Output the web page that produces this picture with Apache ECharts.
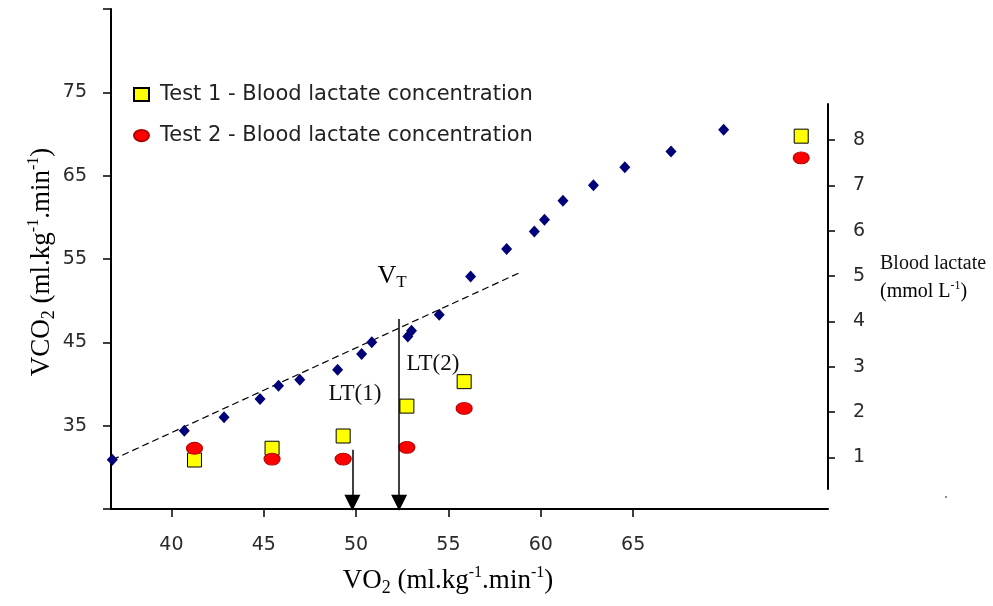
<!DOCTYPE html>
<html><head><meta charset="utf-8">
<script src="https://cdn.jsdelivr.net/npm/echarts@6/dist/echarts.min.js"></script>
<style>html,body{margin:0;padding:0;background:#fff}#c{width:993px;height:606px}</style>
</head><body><div id="c"></div>
<script>
// ---- data ----
// VCO2 vs VO2 (blue diamonds)
const vo2  = [36.8, 40.7, 42.85, 44.8, 45.8, 46.95, 49.0, 50.3, 50.85, 52.8, 53.0, 54.5, 56.2, 58.15, 59.65, 60.2, 61.2, 62.85, 64.55, 67.05, 69.9];
const vco2 = [30.9, 34.4, 36.0, 38.2, 39.8, 40.5, 41.7, 43.6, 45.0, 45.7, 46.4, 48.3, 52.9, 56.2, 58.3, 59.7, 62.0, 63.85, 66.0, 67.9, 70.5];
// blood lactate (right axis) vs VO2
const lactateVo2   = [41.25, 45.45, 49.3, 52.75, 55.85, 74.1];
const test1Lactate = [0.94, 1.2, 1.47, 2.13, 2.67, 8.09];
const test2Lactate = [1.2, 0.96, 0.96, 1.22, 2.08, 7.61];
// dashed linear trend (start, end)
const trendVo2  = [36.8, 58.8];
const trendVco2 = [30.9, 53.3];
// threshold arrows: LT(1), VT
const thresholdVo2 = [49.8, 52.33];
const thresholdTop = [32.1, 47.8];
const arrowEnd = 25.75;
// ticks
const xTicks = [40, 45, 50, 55, 60, 65];
const leftTicks = [35, 45, 55, 65, 75];
const rightTicks = [1, 2, 3, 4, 5, 6, 7, 8];
const seriesNames = ['Test 1 - Blood lactate concentration', 'Test 2 - Blood lactate concentration'];

const xMin = 36.73, xMax = 75.55;
const GL = 111, GR = 993 - 828;
const tickFont = {fontFamily: 'DejaVu Sans', fontSize: 19, color: '#2a2a2a'};
const axisLine = {show: true, onZero: false, lineStyle: {color: '#000', width: 2}};
const serif = 'Liberation Serif';
const titleRich = {
  m: {fontFamily: serif, fontSize: 27, color: '#111', lineHeight: 32},
  sp: {fontFamily: serif, fontSize: 16, color: '#111', verticalAlign: 'top'},
  sb: {fontFamily: serif, fontSize: 18, color: '#111', verticalAlign: 'bottom'}
};
const ellipse = 'path://M0,6A8,6 0 1,1 16,6A8,6 0 1,1 0,6Z';

const chart = echarts.init(document.getElementById('c'), null, {renderer: 'canvas'});
chart.setOption({
  backgroundColor: '#fff',
  animation: false,
  grid: [
    {left: GL, right: GR, top: 9, bottom: 97},
    {left: GL, right: GR, top: 104, bottom: 117}
  ],
  xAxis: [
    {type: 'value', gridIndex: 0, min: xMin, max: xMax,
     axisLine: axisLine,
     axisTick: {show: true, customValues: xTicks, length: 8, lineStyle: {color: '#000', width: 1.5}},
     axisLabel: Object.assign({customValues: xTicks, margin: 27}, tickFont),
     splitLine: {show: false}},
    {type: 'value', gridIndex: 1, min: xMin, max: xMax, show: false}
  ],
  yAxis: [
    {type: 'value', gridIndex: 0, min: 25, max: 85, interval: 10,
     axisLine: axisLine,
     axisTick: {show: true, length: 8, lineStyle: {color: '#000', width: 1.5}},
     axisLabel: Object.assign({margin: 24, formatter: v => leftTicks.includes(v) ? String(v) : ''}, tickFont),
     splitLine: {show: false}},
    {type: 'value', gridIndex: 1, position: 'right', min: 0.3, max: 8.8,
     axisLine: axisLine,
     axisTick: {show: true, customValues: rightTicks, length: 7, lineStyle: {color: '#000', width: 1.5}},
     axisLabel: Object.assign({customValues: rightTicks, margin: 25}, tickFont),
     splitLine: {show: false}}
  ],
  legend: {
    data: seriesNames, orient: 'vertical', left: 128, top: 79,
    itemWidth: 15, itemHeight: 13, itemGap: 20, selectedMode: false,
    textStyle: {fontFamily: 'DejaVu Sans', fontSize: 21, color: '#222', padding: [0, 0, 0, 6]}
  },
  series: [
    {type: 'line', name: 'trend', xAxisIndex: 0, yAxisIndex: 0, symbol: 'none', z: 2,
     data: trendVo2.map((v, i) => [v, trendVco2[i]]),
     lineStyle: {color: '#000', width: 1.2, type: [7, 4]},
     markLine: {
       silent: true, symbol: ['none', 'triangle'], symbolSize: 16,
       label: {show: false}, emphasis: {disabled: true},
       lineStyle: {color: '#000', width: 1.5, type: 'solid'},
       itemStyle: {color: '#000'},
       data: thresholdVo2.map((x, i) => [{coord: [x, thresholdTop[i]]}, {coord: [x, arrowEnd]}])
     }},
    {type: 'scatter', name: 'VCO2', xAxisIndex: 0, yAxisIndex: 0, symbol: 'diamond', symbolSize: [11, 12], z: 3,
     itemStyle: {color: '#000078', opacity: 1},
     data: vo2.map((v, i) => [v, vco2[i]])},
    {type: 'scatter', name: seriesNames[0], xAxisIndex: 1, yAxisIndex: 1, symbol: 'rect', symbolSize: 14, z: 4,
     itemStyle: {color: '#ffff00', borderColor: '#000', borderWidth: 1, opacity: 1},
     data: lactateVo2.map((v, i) => [v, test1Lactate[i]])},
    {type: 'scatter', name: seriesNames[1], xAxisIndex: 1, yAxisIndex: 1, symbol: ellipse, symbolSize: [16, 12], z: 4,
     itemStyle: {color: '#ff0000', borderColor: '#b00000', borderWidth: 1, opacity: 1},
     data: lactateVo2.map((v, i) => [v, test2Lactate[i]])}
  ],
  graphic: [
    {type: 'text', x: 42, y: 262, rotation: Math.PI / 2,
     style: {text: '{m|VCO}{sb|2}{m| (ml.kg}{sp|-1}{m|.min}{sp|-1}{m|)}', rich: titleRich, align: 'center', verticalAlign: 'middle'}},
    {type: 'text', x: 448, y: 581,
     style: {text: '{m|VO}{sb|2}{m| (ml.kg}{sp|-1}{m|.min}{sp|-1}{m|)}', rich: titleRich, align: 'center', verticalAlign: 'middle'}},
    {type: 'text', x: 880, y: 264,
     style: {text: 'Blood lactate', fontFamily: serif, fontSize: 20, fill: '#111', align: 'left', verticalAlign: 'middle'}},
    {type: 'text', x: 880, y: 292,
     style: {text: '{a|(mmol L}{s|-1}{a|)}', align: 'left', verticalAlign: 'middle',
       rich: {a: {fontFamily: serif, fontSize: 20, color: '#111', lineHeight: 24},
              s: {fontFamily: serif, fontSize: 12, color: '#111', verticalAlign: 'top'}}}},
    {type: 'text', x: 392, y: 276,
     style: {text: '{v|V}{t|T}', align: 'center', verticalAlign: 'middle',
       rich: {v: {fontFamily: serif, fontSize: 26, color: '#111', lineHeight: 30},
              t: {fontFamily: serif, fontSize: 17, color: '#111', verticalAlign: 'bottom'}}}},
    {type: 'text', x: 355, y: 394,
     style: {text: 'LT(1)', fontFamily: serif, fontSize: 23, fill: '#111', align: 'center', verticalAlign: 'middle'}},
    {type: 'text', x: 433, y: 364,
     style: {text: 'LT(2)', fontFamily: serif, fontSize: 23, fill: '#111', align: 'center', verticalAlign: 'middle'}},
    {type: 'circle', shape: {cx: 946, cy: 497, r: 1}, style: {fill: '#666'}}
  ]
});
</script></body></html>
